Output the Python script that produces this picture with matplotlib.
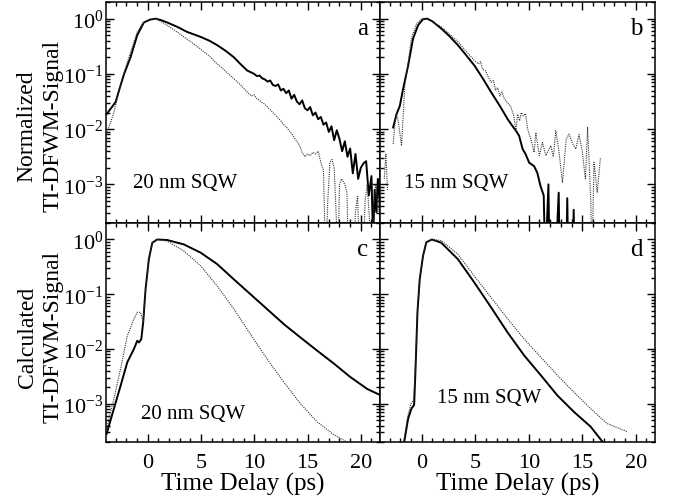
"""
TI-DFWM signal vs time delay: measured (top) and calculated (bottom)
for 20 nm and 15 nm SQW. Curves stored as log10 values read off the figure.
"""
import numpy as np
import matplotlib
matplotlib.use('Agg')
import matplotlib.pyplot as plt
from matplotlib.ticker import LogLocator, MultipleLocator, NullFormatter

plt.rcParams.update({
    'font.family': 'Liberation Serif',
    'mathtext.fontset': 'custom',
    'mathtext.rm': 'Liberation Serif',
    'mathtext.it': 'Liberation Serif:italic',
    'axes.linewidth': 1.1,
})

# ---- panel a: measured, 20 nm SQW ----
A_SOLID_X = [-3.85, -3.0, -2.6, -2.2, -1.6, -0.97, -0.35, 0.2, 0.75, 1.3, 1.85, 2.8,
             3.7, 4.97, 5.8, 6.53, 7.3, 8.1, 8.7, 9.35,
             10.0, 10.25, 10.5, 10.75, 11.0, 11.25, 11.5, 11.75, 12.0, 12.25, 12.5,
             12.75, 13.0, 13.25, 13.5, 13.75, 14.0, 14.25, 14.5, 14.75, 15.0, 15.25,
             15.5, 15.75, 16.0, 16.25, 16.5, 16.75, 17.0, 17.25, 17.5, 17.75, 18.0,
             18.25, 18.5, 18.75, 19.0, 19.25, 19.5, 19.75, 20.0, 20.25, 20.5, 20.75,
             21.0, 21.15, 21.3, 21.45, 21.6, 21.8]
A_SOLID_LOG = [-1.73, -1.51, -1.25, -1.0, -0.70, -0.30, -0.07, -0.02, 0.0, -0.03, -0.07, -0.15,
               -0.24, -0.33, -0.40, -0.48, -0.58, -0.70, -0.82, -0.94,
               -1.00, -1.04, -1.03, -1.08, -1.10, -1.14, -1.12, -1.20, -1.22, -1.19, -1.30,
               -1.27, -1.35, -1.30, -1.45, -1.38, -1.50, -1.55, -1.48, -1.62, -1.66, -1.60,
               -1.75, -1.70, -1.82, -1.78, -1.92, -1.88, -2.05, -1.95, -2.20, -2.02, -2.18,
               -2.40, -2.22, -2.50, -2.35, -2.80, -2.45, -2.90, -2.70, -2.62, -2.58, -3.20,
               -2.85, -4.00, -3.10, -3.50, -2.90, -3.40]
A_DOT_X = [-3.85, -3.6, -3.16, -2.8, -2.38, -2.0, -1.6, -0.97, -0.35, 0.28, 0.75, 1.3,
           1.85, 2.6, 3.4, 4.2, 4.97, 5.8, 6.53, 7.3, 8.1, 8.72,
           9.5, 9.75, 10.0, 10.25, 10.5, 10.75, 11.0, 11.25, 11.5, 11.75, 12.0, 12.25,
           12.5, 12.75, 13.0, 13.25, 13.5, 13.75, 14.0, 14.25, 14.5, 14.75, 15.0, 15.25,
           15.5, 15.75, 16.0, 16.25, 16.5, 16.7, 16.9, 17.1, 17.3, 17.5, 17.7, 17.85,
           18.0, 18.2, 18.5, 18.7, 18.85, 19.3, 19.5, 19.7, 19.9, 20.2, 20.4, 20.6,
           20.8, 21.0, 21.2, 21.4, 21.6, 21.8]
A_DOT_LOG = [-2.06, -1.95, -1.70, -1.40, -1.09, -0.85, -0.61, -0.24, -0.06, -0.01, 0.0, -0.06,
             -0.12, -0.22, -0.33, -0.44, -0.55, -0.68, -0.82, -0.95, -1.09, -1.20,
             -1.36, -1.40, -1.38, -1.45, -1.48, -1.52, -1.55, -1.60, -1.65, -1.70, -1.75, -1.80,
             -1.85, -1.92, -1.96, -2.02, -2.08, -2.15, -2.22, -2.30, -2.42, -2.50, -2.45, -2.48,
             -2.42, -2.45, -2.40, -2.60, -2.75, -4.5, -3.3, -2.6, -2.55, -2.7, -3.6, -4.5,
             -3.0, -2.9, -3.0, -3.15, -4.5, -4.5, -3.5, -3.2, -4.5, -4.5, -3.3, -3.0,
             -3.6, -4.5, -3.4, -3.0, -3.5, -3.2]

# ---- panel b: measured, 15 nm SQW ----
B_SOLID_X = [-2.67, -2.36, -2.05, -1.74, -1.27, -0.81, -0.34, 0.12, 0.5, 1.0, 1.83, 2.6,
             3.38, 4.1, 4.93, 5.7, 6.48, 7.3, 8.03, 8.5, 8.81, 9.1, 9.43, 9.7, 10.05,
             10.5, 10.8, 11.1, 11.4, 11.55, 11.84, 11.95, 12.5, 12.8, 12.9, 13.5, 13.6,
             13.7, 14.1, 14.2, 14.3]
B_SOLID_LOG = [-1.97, -1.73, -1.58, -1.27, -0.85, -0.36, -0.12, -0.01, 0.0, -0.05, -0.18, -0.32,
               -0.48, -0.65, -0.85, -1.08, -1.33, -1.58, -1.82, -1.95, -2.03, -2.12, -2.36, -2.45, -2.61,
               -2.67, -2.79, -3.03, -3.2, -4.5, -3.0, -4.5, -4.5, -3.15, -4.5, -4.5, -3.25,
               -4.5, -4.5, -3.46, -4.5]
B_DOT_X = [-3.5, -3.35, -3.2, np.nan,
           -2.67, -2.5, -2.36, -2.2, -1.89, -1.58, -1.3, -0.97, -0.5, -0.03, 0.4, 1.0,
           1.83, 2.6, 3.38, 4.1, 4.93, 5.3, 5.5, 5.7, 6.0, 6.2, 6.48, 6.7, 6.9, 7.1,
           7.3, 7.5, 7.72, 8.0, 8.3, 8.6, 8.8, 8.96, 9.15, 9.3, 9.5, 9.7, 9.9, 10.2,
           10.5, 10.66, 11.0, 11.28, 11.6, 12.06, 12.3, 12.53, 12.8, 13.15, 13.5, 13.77,
           14.07, 14.4, 14.7, 15.0, 15.3, 15.5, 15.8, 15.9, 16.1, 16.4, 16.7]
B_DOT_LOG = [-2.9, -2.45, -3.1, np.nan,
             -2.27, -1.9, -1.73, -1.85, -2.30, -1.21, -0.85, -0.36, -0.10, -0.01, 0.0, -0.06,
             -0.15, -0.28, -0.42, -0.58, -0.76, -0.82, -0.78, -0.92, -0.95, -1.05, -1.15, -1.12, -1.30, -1.25,
             -1.40, -1.33, -1.45, -1.52, -1.58, -1.76, -2.03, -1.73, -1.85, -1.70, -1.76, -1.72, -2.0, -2.18,
             -2.42, -2.06, -2.48, -2.24, -2.48, -2.30, -2.5, -2.03, -2.36, -2.97, -2.18, -2.09,
             -2.25, -2.36, -2.1, -2.4, -2.91, -1.97, -3.3, -4.5, -2.6, -3.15, -2.52]

# ---- panel c: calculated, 20 nm SQW ----
C_SOLID_X = [-3.84, -3.16, -2.53, -1.9, -1.28, -0.97, -0.81, -0.59, -0.41, -0.19, 0.12,
             0.44, 0.91, 1.85, 3.4, 4.97, 6.53, 8.1, 9.65, 11.2, 12.8, 14.34, 15.9,
             17.5, 19.0, 20.6, 21.8]
C_SOLID_LOG = [-3.55, -3.09, -2.67, -2.24, -2.0, -1.85, -1.88, -1.82, -1.51, -0.91, -0.36,
               -0.06, 0.0, -0.01, -0.09, -0.24, -0.45, -0.73, -1.0, -1.27, -1.55, -1.79, -2.03,
               -2.27, -2.51, -2.73, -2.84]
C_DOT_X = [-3.84, -3.16, -2.53, -1.9, -1.28, -0.97, -0.66, -0.5, -0.41, -0.19, 0.12,
           0.44, 0.91, 1.85, 3.4, 4.97, 6.53, 8.1, 9.65, 11.2, 12.8, 14.34, 15.9,
           17.5, 18.7, 19.2]
C_DOT_LOG = [-3.45, -2.91, -2.36, -1.76, -1.45, -1.33, -1.33, -1.45, -1.51, -0.91, -0.36,
             -0.06, 0.0, -0.03, -0.21, -0.48, -0.85, -1.27, -1.73, -2.18, -2.61, -3.0, -3.33,
             -3.57, -3.70, -3.76]

# ---- panel d: calculated, 15 nm SQW ----
D_SOLID_X = [-1.64, -1.27, -0.96, -0.71, -0.59, -0.40, -0.19, 0.12, 0.43, 0.96, 1.83,
             3.38, 4.93, 6.48, 8.03, 9.58, 11.13, 12.68, 14.23, 15.79, 17.0]
D_SOLID_LOG = [-3.70, -3.27, -3.09, -3.02, -2.42, -1.33, -0.73, -0.30, -0.05, 0.0, -0.06,
               -0.36, -0.79, -1.24, -1.70, -2.12, -2.48, -2.85, -3.15, -3.42, -3.72]
D_DOT_X = [-1.7, -1.3, -1.0, -0.75, -0.6, -0.40, -0.19, 0.12, 0.43, 0.96, 1.83,
           3.38, 4.93, 6.48, 8.03, 9.58, 11.13, 12.68, 14.23, 15.79, 17.3, 19.2]
D_DOT_LOG = [-3.72, -3.22, -3.0, -2.92, -2.35, -1.30, -0.72, -0.30, -0.05, 0.0, -0.02,
             -0.27, -0.67, -1.06, -1.45, -1.82, -2.15, -2.48, -2.79, -3.09, -3.36, -3.51]

PANELS = [
    ('a', '20 nm SQW', (0.10, 0.185), A_SOLID_X, A_SOLID_LOG, A_DOT_X, A_DOT_LOG),
    ('b', '15 nm SQW', (0.087, 0.185), B_SOLID_X, B_SOLID_LOG, B_DOT_X, B_DOT_LOG),
    ('c', '20 nm SQW', (0.128, 0.128), C_SOLID_X, C_SOLID_LOG, C_DOT_X, C_DOT_LOG),
    ('d', '15 nm SQW', (0.207, 0.205), D_SOLID_X, D_SOLID_LOG, D_DOT_X, D_DOT_LOG),
]

W, H = 673, 502
fig = plt.figure(figsize=(W / 100, H / 100), dpi=100)
boxes = [
    [106 / W, 1 - 224 / H, 274 / W, 221 / H],
    [380 / W, 1 - 224 / H, 275 / W, 221 / H],
    [106 / W, 1 - 443 / H, 274 / W, 219 / H],
    [380 / W, 1 - 443 / H, 275 / W, 219 / H],
]

for i, (box, (lab, txt, tpos, sx, sl, dx, dl)) in enumerate(zip(boxes, PANELS)):
    ax = fig.add_axes(box)
    ax.plot(sx, 10 ** np.asarray(sl, float), color='black', lw=1.4)
    ax.plot(dx, 10 ** np.asarray(dl, float), color='0.2', lw=0.8, ls=(0, (1, 1)))
    ax.set_yscale('log')
    ax.set_xlim(-3.9, 21.8)
    ax.set_ylim(2e-4, 2.0)
    ax.xaxis.set_major_locator(MultipleLocator(5))
    ax.xaxis.set_minor_locator(MultipleLocator(1))
    ax.yaxis.set_major_locator(LogLocator(base=10, numticks=10))
    ax.yaxis.set_minor_locator(LogLocator(base=10, subs=np.arange(2, 10), numticks=20))
    ax.yaxis.set_minor_formatter(NullFormatter())
    ax.tick_params(which='both', direction='in', top=True, right=True, width=1.0)
    ax.tick_params(which='major', length=6, labelsize=16)
    ax.tick_params(which='minor', length=3)
    ax.tick_params(axis='x', pad=8)
    ax.tick_params(axis='y', pad=2)
    if i in (1, 3):
        ax.tick_params(labelleft=False)
    if i in (0, 1):
        ax.tick_params(labelbottom=False)
    else:
        ax.set_xlabel('Time Delay (ps)', fontsize=18, labelpad=0)
    ax.text(0.955, 0.93, lab, transform=ax.transAxes, ha='right', va='top', fontsize=18)
    ax.text(tpos[0], tpos[1], txt, transform=ax.transAxes, ha='left', va='center', fontsize=15)

fig.text(40 / W, 1 - 126 / H, 'Normalized\nTI-DFWM-Signal', rotation=90,
         ha='center', va='center', fontsize=17, multialignment='center', linespacing=1.3)
fig.text(40 / W, 1 - 337 / H, 'Calculated\nTI-DFWM-Signal', rotation=90,
         ha='center', va='center', fontsize=17, multialignment='center', linespacing=1.3)

fig.savefig('out.png', dpi=100)
